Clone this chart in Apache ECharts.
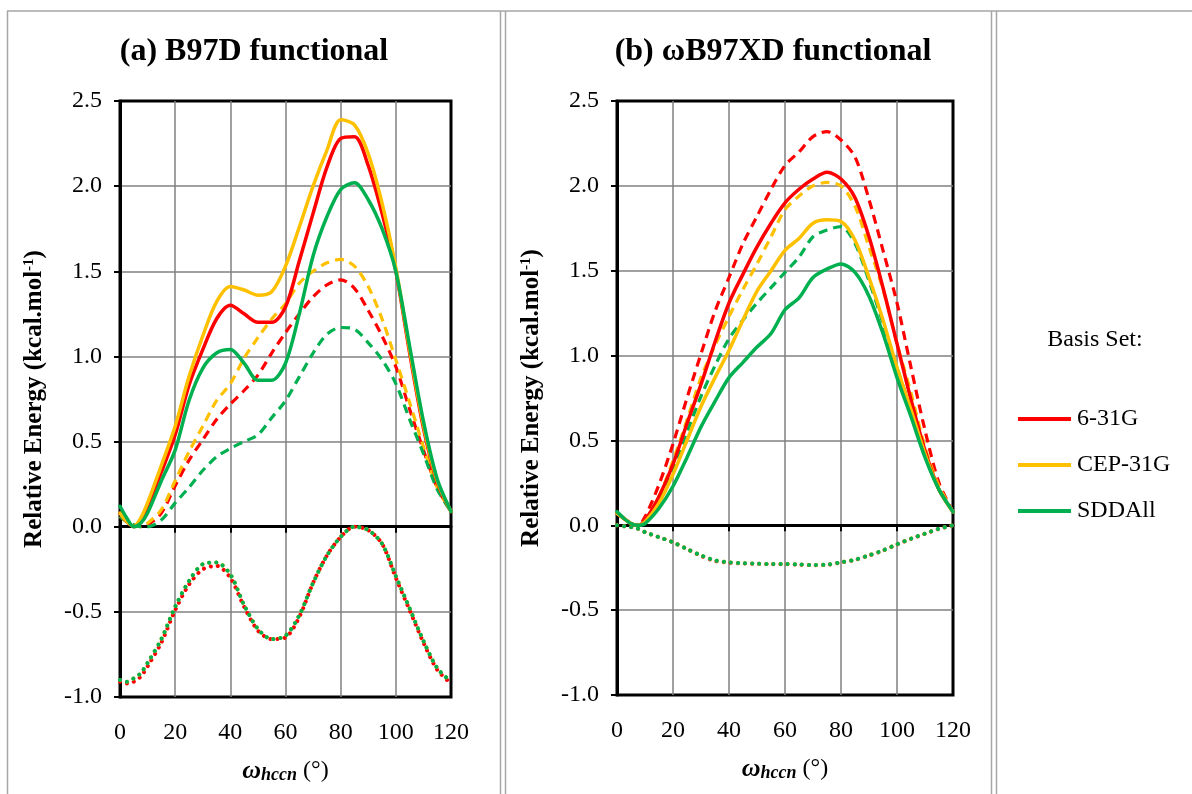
<!DOCTYPE html>
<html>
<head>
<meta charset="utf-8">
<script src="https://cdn.jsdelivr.net/npm/echarts@6/dist/echarts.min.js"></script>
<style>
html,body{margin:0;padding:0;background:#fff;}
#c{width:1192px;height:794px;}
</style>
</head>
<body>
<div id="c"></div>
<script>
// ---------- DATA ----------
const X = [0, 2.5, 5, 7.5, 10, 15, 20, 25, 30, 35, 40, 45, 50, 55, 60, 65, 70, 75, 80, 85, 90, 95, 100, 105, 110, 115, 120];
const xTicks = [0, 20, 40, 60, 80, 100, 120];
const yTicks = [-1.0, -0.5, 0.0, 0.5, 1.0, 1.5, 2.0, 2.5];
const basisNames = ['6-31G', 'CEP-31G', 'SDDAll'];

// Panel (a) B97D
const aRedSolid    = [0.08,0.03,0.00,0.04,0.12,0.32,0.54,0.83,1.04,1.22,1.30,1.25,1.20,1.20,1.29,1.56,1.84,2.11,2.28,2.29,2.12,1.84,1.50,1.02,0.58,0.26,0.09];
const aYellowSolid = [0.08,0.03,0.00,0.05,0.14,0.36,0.59,0.88,1.12,1.32,1.41,1.39,1.36,1.38,1.53,1.76,2.00,2.21,2.39,2.36,2.19,1.90,1.52,1.04,0.60,0.27,0.09];
const aGreenSolid  = [0.12,0.05,0.00,0.02,0.08,0.27,0.45,0.74,0.93,1.02,1.04,0.96,0.86,0.86,0.96,1.25,1.59,1.82,1.98,2.02,1.92,1.75,1.50,1.06,0.62,0.28,0.09];
const aRedDash     = [0.06,0.03,0.01,0.00,0.01,0.08,0.24,0.39,0.51,0.63,0.72,0.80,0.89,1.02,1.14,1.25,1.35,1.42,1.45,1.40,1.27,1.12,0.94,0.69,0.45,0.23,0.09];
const aYellowDash  = [0.06,0.03,0.01,0.00,0.02,0.10,0.27,0.44,0.59,0.74,0.84,0.99,1.11,1.22,1.31,1.43,1.50,1.55,1.57,1.53,1.41,1.22,0.98,0.73,0.47,0.23,0.09];
const aGreenDash   = [0.06,0.03,0.01,0.00,0.00,0.04,0.14,0.23,0.33,0.41,0.46,0.50,0.54,0.64,0.74,0.88,1.02,1.13,1.17,1.16,1.08,0.98,0.84,0.63,0.43,0.22,0.09];
const aRedDot      = [-0.91,-0.92,-0.91,-0.88,-0.82,-0.68,-0.49,-0.34,-0.25,-0.23,-0.30,-0.47,-0.61,-0.66,-0.65,-0.53,-0.33,-0.17,-0.06,0.00,-0.02,-0.10,-0.30,-0.49,-0.68,-0.84,-0.92];
const aYellowDot   = [-0.90,-0.91,-0.89,-0.86,-0.80,-0.66,-0.47,-0.32,-0.22,-0.21,-0.28,-0.46,-0.60,-0.66,-0.64,-0.52,-0.33,-0.17,-0.06,0.00,-0.02,-0.10,-0.29,-0.48,-0.67,-0.83,-0.91];
const aGreenDot    = [-0.90,-0.91,-0.89,-0.86,-0.80,-0.66,-0.47,-0.32,-0.22,-0.21,-0.28,-0.46,-0.60,-0.66,-0.64,-0.52,-0.33,-0.17,-0.06,0.00,-0.02,-0.10,-0.29,-0.48,-0.67,-0.83,-0.91];

// Panel (b) wB97XD
const bRedSolid    = [0.07,0.04,0.01,0.00,0.03,0.17,0.36,0.60,0.83,1.08,1.31,1.48,1.64,1.78,1.90,1.98,2.04,2.08,2.04,1.93,1.70,1.40,1.07,0.74,0.44,0.21,0.08];
const bYellowSolid = [0.07,0.04,0.01,0.00,0.02,0.13,0.30,0.50,0.70,0.87,1.03,1.21,1.38,1.50,1.62,1.69,1.78,1.80,1.79,1.68,1.46,1.21,0.93,0.68,0.42,0.21,0.08];
const bGreenSolid  = [0.08,0.04,0.01,0.00,0.01,0.10,0.23,0.40,0.58,0.73,0.87,0.96,1.05,1.13,1.27,1.34,1.46,1.51,1.54,1.49,1.35,1.13,0.87,0.64,0.40,0.21,0.08];
const bRedDash     = [0.07,0.04,0.01,0.00,0.05,0.24,0.48,0.75,1.01,1.26,1.46,1.66,1.82,1.98,2.12,2.20,2.29,2.32,2.27,2.17,1.92,1.62,1.31,0.93,0.56,0.25,0.08];
const bYellowDash  = [0.07,0.04,0.01,0.00,0.03,0.17,0.38,0.62,0.87,1.06,1.23,1.39,1.54,1.70,1.86,1.94,2.00,2.02,2.00,1.88,1.64,1.39,1.07,0.78,0.46,0.23,0.08];
const bGreenDash   = [0.08,0.04,0.01,0.00,0.02,0.15,0.34,0.55,0.76,0.94,1.10,1.21,1.31,1.40,1.49,1.58,1.70,1.74,1.76,1.66,1.44,1.19,0.93,0.68,0.42,0.21,0.08];
const bRedDot      = [0.00,-0.005,-0.01,-0.02,-0.04,-0.07,-0.10,-0.14,-0.18,-0.21,-0.22,-0.225,-0.227,-0.229,-0.229,-0.232,-0.235,-0.233,-0.219,-0.204,-0.178,-0.149,-0.113,-0.080,-0.050,-0.021,0.00];
const bYellowDot   = [0.00,-0.005,-0.01,-0.02,-0.04,-0.07,-0.10,-0.14,-0.177,-0.207,-0.218,-0.223,-0.226,-0.228,-0.228,-0.231,-0.234,-0.232,-0.218,-0.203,-0.177,-0.148,-0.112,-0.079,-0.049,-0.02,0.00];
const bGreenDot    = [0.00,-0.005,-0.01,-0.02,-0.04,-0.07,-0.10,-0.14,-0.177,-0.207,-0.218,-0.223,-0.226,-0.228,-0.228,-0.231,-0.234,-0.232,-0.218,-0.203,-0.177,-0.148,-0.112,-0.079,-0.049,-0.02,0.00];

// ---------- STYLE ----------
const RED = '#FF0000', YEL = '#FFC000', GRN = '#00B050';
const FONT = 'Liberation Serif';
const pairs = (arr) => X.map((x, i) => [x, arr[i]]);

function mk(name, grid, arr, color, kind) {
  const ls = { color: color, width: 3.5, cap: 'round', join: 'round' };
  if (kind === 'dash') { ls.type = [9, 6]; ls.width = 3.2; ls.cap = 'butt'; }
  if (kind === 'dot') { ls.type = [0.1, 7]; ls.width = 4; ls.cap = 'round'; }
  return {
    name: name, type: 'line', xAxisIndex: grid * 2, yAxisIndex: grid,
    data: pairs(arr), smooth: 0.3,
    symbol: 'none', showSymbol: false, lineStyle: ls, itemStyle: { color: color },
    silent: true, z: kind === 'solid' ? 3 : 2
  };
}

const series = [
  mk('6-31G dot', 0, aRedDot, RED, 'dot'),
  mk('CEP-31G dot', 0, aYellowDot, YEL, 'dot'),
  mk('SDDAll dot', 0, aGreenDot, GRN, 'dot'),
  mk('6-31G dash', 0, aRedDash, RED, 'dash'),
  mk('CEP-31G dash', 0, aYellowDash, YEL, 'dash'),
  mk('SDDAll dash', 0, aGreenDash, GRN, 'dash'),
  mk(basisNames[0], 0, aRedSolid, RED, 'solid'),
  mk(basisNames[1], 0, aYellowSolid, YEL, 'solid'),
  mk(basisNames[2], 0, aGreenSolid, GRN, 'solid'),
  mk('6-31G dot', 1, bRedDot, RED, 'dot'),
  mk('CEP-31G dot', 1, bYellowDot, YEL, 'dot'),
  mk('SDDAll dot', 1, bGreenDot, GRN, 'dot'),
  mk('6-31G dash', 1, bRedDash, RED, 'dash'),
  mk('CEP-31G dash', 1, bYellowDash, YEL, 'dash'),
  mk('SDDAll dash', 1, bGreenDash, GRN, 'dash'),
  mk(basisNames[0], 1, bRedSolid, RED, 'solid'),
  mk(basisNames[1], 1, bYellowSolid, YEL, 'solid'),
  mk(basisNames[2], 1, bGreenSolid, GRN, 'solid')
];

const xMin = xTicks[0], xMax = xTicks[xTicks.length - 1], xInt = xTicks[1] - xTicks[0];
const yMin = yTicks[0], yMax = yTicks[yTicks.length - 1], yInt = yTicks[1] - yTicks[0];

function xAxesFor(g) {
  return [
    {
      gridIndex: g, type: 'value', min: xMin, max: xMax, interval: xInt, position: 'bottom',
      axisLine: { show: true, onZero: true, lineStyle: { color: '#000', width: 3 } },
      axisTick: { show: true, inside: false, length: 6, lineStyle: { color: '#000', width: 2 } },
      axisLabel: { show: false },
      splitLine: { show: true, showMinLine: false, showMaxLine: false, lineStyle: { color: '#808080', width: 1.5 } }
    },
    {
      gridIndex: g, type: 'value', min: xMin, max: xMax, interval: xInt, position: 'bottom',
      axisLine: { show: false, onZero: false },
      axisTick: { show: false },
      splitLine: { show: false },
      axisLabel: { show: true, margin: 24, color: '#000', fontFamily: FONT, fontSize: 24 },
      name: '{w|ω}{s|hccn}{n| (°)}', nameLocation: 'middle', nameGap: 61,
      nameTextStyle: {
        color: '#000',
        rich: {
          w: { fontFamily: FONT, fontSize: 26, fontWeight: 'bold', fontStyle: 'italic', color: '#000' },
          s: { fontFamily: FONT, fontSize: 18, fontWeight: 'bold', fontStyle: 'italic', color: '#000', verticalAlign: 'bottom', padding: [8, 0, 0, 0] },
          n: { fontFamily: FONT, fontSize: 24, color: '#000' }
        }
      }
    }
  ];
}

function yAxisFor(g) {
  return {
    gridIndex: g, type: 'value', min: yMin, max: yMax, interval: yInt,
    axisLine: { show: true, onZero: false, lineStyle: { color: '#000', width: 3 } },
    axisTick: { show: true, inside: false, length: 6, lineStyle: { color: '#000', width: 2 } },
    axisLabel: { margin: 18, color: '#000', fontFamily: FONT, fontSize: 24, formatter: v => v.toFixed(1) },
    splitLine: { show: true, showMinLine: false, showMaxLine: false, lineStyle: { color: '#808080', width: 1.5 } },
    name: '{b|Relative Energy (kcal.mol}{u|-1}{b|)}', nameLocation: 'middle', nameGap: 73,
    nameTextStyle: {
      color: '#000',
      rich: {
        b: { fontFamily: FONT, fontSize: 25, fontWeight: 'bold', color: '#000' },
        u: { fontFamily: FONT, fontSize: 15, fontWeight: 'bold', color: '#000', verticalAlign: 'top' }
      }
    }
  };
}

const BC = '#a6a6a6';
function vline(x, y1, y2) { return { type: 'line', shape: { x1: x, y1: y1, x2: x, y2: y2 }, style: { stroke: BC, lineWidth: 1.5 }, silent: true }; }
function hline(y, x1, x2) { return { type: 'line', shape: { x1: x1, y1: y, x2: x2, y2: y }, style: { stroke: BC, lineWidth: 1.5 }, silent: true }; }

const option = {
  animation: false,
  backgroundColor: '#fff',
  grid: [
    { left: 120, top: 101, width: 331, height: 596, show: true, borderColor: '#000', borderWidth: 3, backgroundColor: 'transparent' },
    { left: 617, top: 101, width: 336, height: 594, show: true, borderColor: '#000', borderWidth: 3, backgroundColor: 'transparent' }
  ],
  xAxis: xAxesFor(0).concat(xAxesFor(1)),
  yAxis: [yAxisFor(0), yAxisFor(1)],
  legend: {
    data: basisNames, orient: 'vertical', left: 1018, top: 406, padding: 0,
    icon: 'rect', itemWidth: 53, itemHeight: 4, itemGap: 20,
    textStyle: { fontFamily: FONT, fontSize: 24, color: '#000', lineHeight: 26, padding: [0, 0, 0, 1] },
    selectedMode: false
  },
  graphic: [
    vline(7.5, 11, 794), hline(11, 7, 1192),
    vline(500.5, 11, 794), vline(505.5, 11, 794),
    vline(991.5, 11, 794), vline(996.5, 11, 794),
    { type: 'text', x: 254, y: 52, style: { text: '(a) B97D functional', font: 'bold 32px "Liberation Serif"', fill: '#000', textAlign: 'center', textVerticalAlign: 'middle' } },
    { type: 'text', x: 773, y: 52, style: { text: '(b) ωB97XD functional', font: 'bold 32px "Liberation Serif"', fill: '#000', textAlign: 'center', textVerticalAlign: 'middle' } },
    { type: 'text', x: 1095, y: 340, style: { text: 'Basis Set:', font: '24px "Liberation Serif"', fill: '#000', textAlign: 'center', textVerticalAlign: 'middle' } }
  ],
  series: series
};

const chart = echarts.init(document.getElementById('c'), null, { renderer: 'canvas' });
chart.setOption(option);
</script>
</body>
</html>
